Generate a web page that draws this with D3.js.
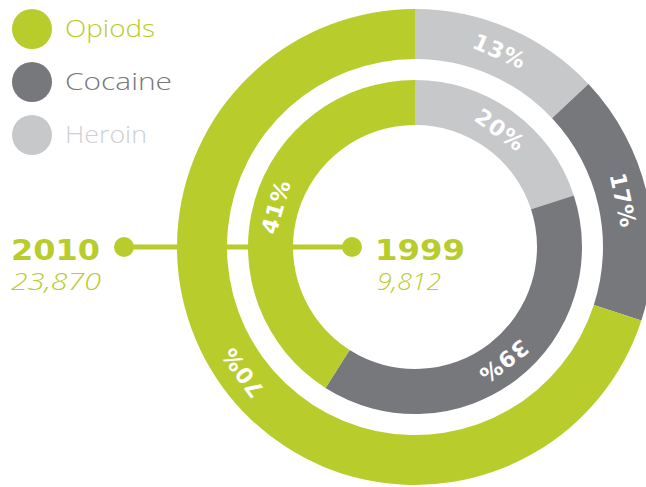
<!DOCTYPE html>
<html>
<head>
<meta charset="utf-8">
<script src="https://cdn.jsdelivr.net/npm/d3@7"></script>
<style>
  body { margin: 0; background: #fff; }
  .pct { font-family: 'DejaVu Sans', sans-serif; font-weight: bold; fill: #fff; }
  .legend-label { font-family: 'Open Sans', 'Liberation Sans', sans-serif; font-weight: 300; }
</style>
</head>
<body>
<svg id="donut" width="646" height="487"></svg>
<script>
  // drug categories, in drawing order clockwise from 12 o'clock
  const drugs = ['Heroin', 'Cocaine', 'Opiods']
  const legendOrder = ['Opiods', 'Cocaine', 'Heroin']
  const share2010 = [13, 17, 70]
  const share1999 = [20, 39, 41]
  const years = ['2010', '1999']
  const totals = ['23,870', '9,812']

  const svg = d3.select('#donut')

  const green = '#b8cc2c'
  const colorScale = d3.scaleOrdinal().
    domain(drugs).
    range(['#c7c8ca', '#77787b', green])
  const textColor = d3.scaleOrdinal().
    domain(drugs).
    range(['#cfd0d2', '#77787b', green])

  const cx = 415
  const cy = 247

  const rings = [
    { year: years[0], total: totals[0], values: share2010, inner: 188, outer: 238 },
    { year: years[1], total: totals[1], values: share1999, inner: 122, outer: 167 },
  ]

  const pie = d3.pie().sort(null).value(d => d.value)

  const g = svg.append('g').
    attr('transform', `translate(${cx},${cy})`)

  // connector line behind the rings
  g.append('line').
    attr('x1', 124 - cx).
    attr('x2', 352 - cx).
    attr('y1', 0).
    attr('y2', 0).
    attr('stroke', green).
    attr('stroke-width', 5)

  rings.forEach(ring => {
    const arc = d3.arc().innerRadius(ring.inner).outerRadius(ring.outer)
    const slices = pie(drugs.map((k, i) => ({ key: k, value: ring.values[i] })))

    g.append('g').selectAll('path').
      data(slices).
      enter().
      append('path').
      attr('d', arc).
      attr('fill', d => colorScale(d.data.key))

    g.append('g').selectAll('text').
      data(slices).
      enter().
      append('text').
      attr('class', 'pct').
      attr('font-size', 22).
      attr('letter-spacing', 1).
      attr('text-anchor', 'middle').
      attr('dominant-baseline', 'central').
      attr('transform', d => {
        const [x, y] = arc.centroid(d)
        const a = (d.startAngle + d.endAngle) / 2 * 180 / Math.PI
        return `translate(${x},${y}) rotate(${a})`
      }).
      text(d => d.data.value + '%')
  })

  // dots at the ends of the connector
  svg.selectAll('.dot').
    data([124, 352]).
    enter().
    append('circle').
    attr('class', 'dot').
    attr('cx', d => d).
    attr('cy', cy).
    attr('r', 10).
    attr('fill', green)

  // year labels
  const yearPos = [{ x: 11, w: 89 }, { x: 375, w: 90 }]
  const totalPos = [{ x: 11, w: 90 }, { x: 377, w: 64 }]
  rings.forEach((ring, i) => {
    svg.append('text').
      attr('x', yearPos[i].x).
      attr('y', 260).
      attr('font-family', 'DejaVu Sans, sans-serif').
      attr('font-weight', 'bold').
      attr('font-size', 28).
      attr('textLength', yearPos[i].w).
      attr('lengthAdjust', 'spacingAndGlyphs').
      attr('fill', green).
      text(ring.year)

    svg.append('text').
      attr('x', totalPos[i].x).
      attr('y', 290).
      attr('font-family', 'Open Sans, Liberation Sans, sans-serif').
      attr('font-weight', 300).
      attr('font-style', 'italic').
      attr('font-size', 24).
      attr('textLength', totalPos[i].w).
      attr('lengthAdjust', 'spacingAndGlyphs').
      attr('fill', green).
      text(ring.total)
  })

  // legend
  const legendWidths = [90, 107, 82]
  const legend = svg.append('g').attr('transform', 'translate(32,29)')
  const item = legend.selectAll('g').
    data(legendOrder).
    enter().
    append('g').
    attr('transform', (d, i) => `translate(0,${i * 53})`)

  item.append('circle').
    attr('r', 20).
    attr('fill', d => colorScale(d))

  item.append('text').
    attr('class', 'legend-label').
    attr('x', 33).
    attr('y', 8).
    attr('font-size', 23).
    attr('textLength', (d, i) => legendWidths[i]).
    attr('lengthAdjust', 'spacingAndGlyphs').
    attr('fill', d => textColor(d)).
    text(d => d)
</script>
</body>
</html>
